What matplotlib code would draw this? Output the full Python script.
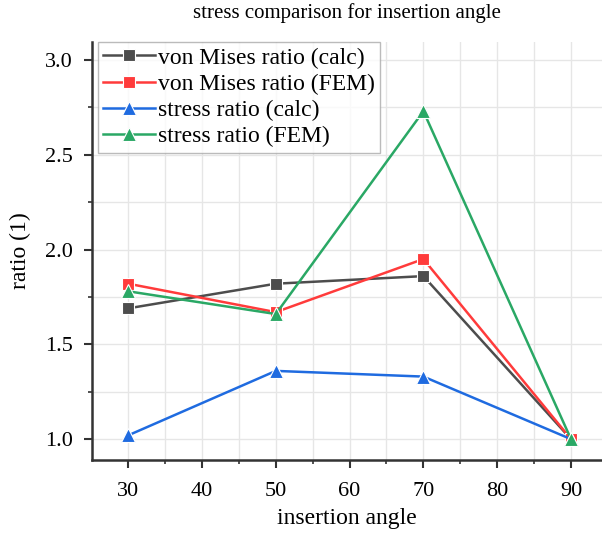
import matplotlib.pyplot as plt
from matplotlib.ticker import MultipleLocator

plt.rcParams['font.family'] = ['Liberation Serif', 'DejaVu Serif']

# data
angles = [30, 50, 70, 90]
vm_calc = [1.69, 1.82, 1.86, 1.00]
vm_fem = [1.82, 1.67, 1.95, 1.00]
stress_calc = [1.02, 1.36, 1.33, 1.00]
stress_fem = [1.78, 1.66, 2.73, 1.00]

series = [
    ('von Mises ratio (calc)', vm_calc, '#4d4d4d', 's', 8),
    ('von Mises ratio (FEM)', vm_fem, '#ff3b3b', 's', 8),
    ('stress ratio (calc)', stress_calc, '#1f6be0', '^', 10),
    ('stress ratio (FEM)', stress_fem, '#2aa865', '^', 10),
]

fig = plt.figure(figsize=(6.02, 5.37), dpi=100)
ax = fig.add_axes([92 / 602, 1 - 460 / 537, 510 / 602, 418 / 537])

for label, vals, col, mk, ms in series:
    ax.plot(angles, vals, color=col, marker=mk, markersize=ms, lw=1.8,
            markeredgecolor='white', markeredgewidth=0.8, label=label)

ax.set_xlim(25.1, 94.2)
ax.set_ylim(0.89, 3.095)
ax.xaxis.set_major_locator(MultipleLocator(10))
ax.xaxis.set_minor_locator(MultipleLocator(5))
ax.yaxis.set_major_locator(MultipleLocator(0.5))
ax.yaxis.set_minor_locator(MultipleLocator(0.25))
ax.grid(which='both', color='#e6e6e6', lw=1)
ax.set_axisbelow(True)

for s in ['top', 'right']:
    ax.spines[s].set_visible(False)
for s in ['left', 'bottom']:
    ax.spines[s].set_color('#333333')
    ax.spines[s].set_linewidth(1.8)

ax.tick_params(which='major', direction='out', length=6, width=1.5,
               color='#333333', labelsize=16)
ax.tick_params(axis='x', which='major', pad=10)
ax.tick_params(axis='y', which='major', pad=8)
ax.tick_params(which='minor', direction='out', length=3, width=1.2,
               color='#333333')

ax.set_title('stress comparison for insertion angle', fontsize=15, pad=17)
ax.set_xlabel('insertion angle', fontsize=17, labelpad=5)
ax.set_ylabel('ratio (1)', fontsize=17, labelpad=10)

ax.legend(loc='upper left', bbox_to_anchor=(0.012, 1.0), fontsize=17,
          frameon=True, fancybox=False, edgecolor='#aaaaaa',
          handlelength=2.2, handletextpad=0.1, borderpad=0.22,
          labelspacing=0.2, borderaxespad=0)

fig.savefig('out.png', dpi=100)
